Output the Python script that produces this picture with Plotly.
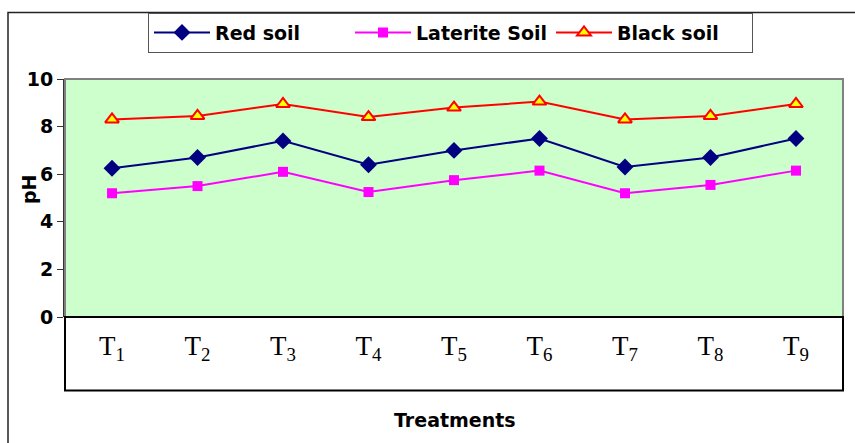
import plotly.graph_objects as go

categories = ["T1", "T2", "T3", "T4", "T5", "T6", "T7", "T8", "T9"]
tick_labels = ["T<sub>%d</sub>" % i for i in range(1, 10)]
red_soil = [6.25, 6.7, 7.4, 6.4, 7.0, 7.5, 6.3, 6.7, 7.5]
laterite_soil = [5.2, 5.5, 6.1, 5.25, 5.75, 6.15, 5.2, 5.55, 6.15]
black_soil = [8.3, 8.45, 8.95, 8.4, 8.8, 9.05, 8.3, 8.45, 8.95]

BOLD = "DejaVu Sans, Arial"

fig = go.Figure()
fig.add_trace(go.Scatter(x=categories, y=red_soil, name="Red soil", mode="lines+markers",
                         line=dict(color="#000080", width=2),
                         marker=dict(symbol="diamond", size=13, color="#000080")))
fig.add_trace(go.Scatter(x=categories, y=laterite_soil, name="Laterite Soil", mode="lines+markers",
                         line=dict(color="#FF00FF", width=2),
                         marker=dict(symbol="square", size=10, color="#FF00FF")))
fig.add_trace(go.Scatter(x=categories, y=black_soil, name="Black soil", mode="lines+markers",
                         line=dict(color="#FF0000", width=2),
                         marker=dict(symbol="triangle-up", size=12, color="#FFFF00",
                                     line=dict(color="#FF0000", width=2))))

L, R, T, B = 65, 12, 77, 126
W, H = 855, 443
pw = W - L - R
ph = H - T - B

def px_x(x):
    return (x - L) / pw

def px_y(y):
    return (H - B - y) / ph

fig.update_layout(
    width=W, height=H,
    margin=dict(l=L, r=R, t=T, b=B),
    paper_bgcolor="white",
    plot_bgcolor="#CCFFCC",
    showlegend=True,
    legend=dict(orientation="h", x=px_x(148), y=px_y(10), xanchor="left", yanchor="top",
                bordercolor="#555555", borderwidth=1, bgcolor="white",
                font=dict(family=BOLD, size=19, color="black", weight="bold"),
                itemwidth=56, entrywidth=130, entrywidthmode="pixels"),
    xaxis=dict(type="category", tickmode="array", tickvals=categories, ticktext=tick_labels,
               showgrid=False, zeroline=False, showline=False, ticks="",
               tickfont=dict(family="Liberation Serif, Times New Roman", size=27, color="black"),
               ticklabelstandoff=10),
    yaxis=dict(range=[0, 10], dtick=2, showgrid=False, zeroline=False,
               showline=True, linecolor="#333333", linewidth=2,
               ticks="outside", ticklen=6, tickcolor="#333333", tickwidth=1,
               tickfont=dict(family=BOLD, size=19, color="black", weight="bold")),
    shapes=[
        dict(type="rect", xref="paper", yref="paper", x0=px_x(8), x1=px_x(870), y0=px_y(460), y1=px_y(10),
             line=dict(color="#222222", width=1.5), fillcolor="rgba(0,0,0,0)", layer="below"),
        dict(type="rect", xref="paper", yref="paper", x0=0, x1=1, y0=0, y1=1,
             line=dict(color="#808080", width=2), fillcolor="rgba(0,0,0,0)", layer="above"),
        dict(type="rect", xref="paper", yref="paper", x0=0, x1=1, y0=px_y(391), y1=0,
             line=dict(color="black", width=2), fillcolor="rgba(0,0,0,0)"),
    ],
    annotations=[
        dict(text="<b>Treatments</b>", xref="paper", yref="paper", x=px_x(455), y=px_y(421),
             xanchor="center", yanchor="middle",
             showarrow=False, font=dict(family=BOLD, size=19, color="black")),
        dict(text="<b>pH</b>", xref="paper", yref="paper", x=px_x(29), y=px_y(188), textangle=-90,
             xanchor="center", yanchor="middle",
             showarrow=False, font=dict(family=BOLD, size=19, color="black")),
    ],
)

fig.write_html("out.html")
